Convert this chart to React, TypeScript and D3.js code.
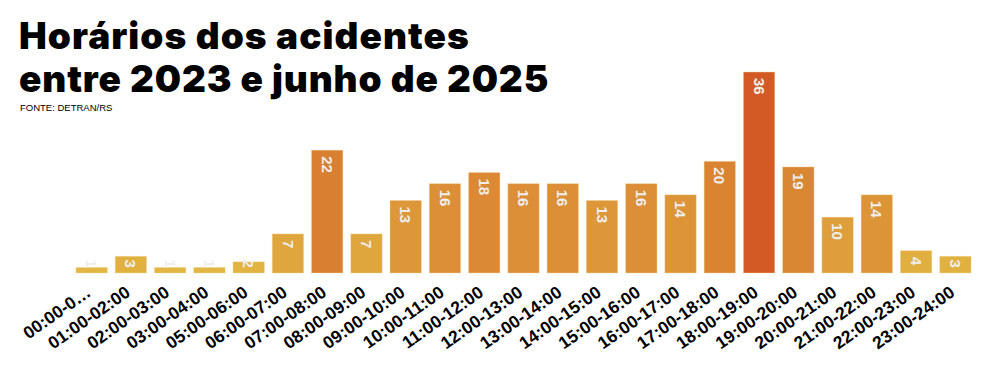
import React, { useRef, useEffect } from 'react';
import * as d3 from 'd3';

const categories = [
  '00:00-0…', '01:00-02:00', '02:00-03:00', '03:00-04:00', '05:00-06:00', '06:00-07:00',
  '07:00-08:00', '08:00-09:00', '09:00-10:00', '10:00-11:00', '11:00-12:00', '12:00-13:00',
  '13:00-14:00', '14:00-15:00', '15:00-16:00', '16:00-17:00', '17:00-18:00', '18:00-19:00',
  '19:00-20:00', '20:00-21:00', '21:00-22:00', '22:00-23:00', '23:00-24:00'
];
const values = [1, 3, 1, 1, 2, 7, 22, 7, 13, 16, 18, 16, 16, 13, 16, 14, 20, 36, 19, 10, 14, 4, 3];

const titleLines = ['Horários dos acidentes', 'entre 2023 e junho de 2025'];
const source = 'FONTE: DETRAN/RS';

const App = () => {
  const svgRef = useRef<SVGSVGElement>(null);

  useEffect(() => {
    const width = 997;
    const height = 365;
    const margin = { top: 72, right: 22, bottom: 92, left: 72 };
    const baseline = height - margin.bottom;

    const svg = d3.select(svgRef.current);
    svg.selectAll('*').remove();
    svg.attr('width', width).attr('height', height);

    // title
    const title = svg.append('g');
    titleLines.forEach((t, i) => {
      title.append('text')
        .attr('x', 19)
        .attr('y', 49 + i * 43)
        .attr('font-family', 'Inter, sans-serif')
        .attr('font-weight', 900)
        .attr('font-size', 37)
        .attr('letter-spacing', i === 0 ? 1.05 : 0.85)
        .attr('fill', '#000')
        .text(t);
    });
    svg.append('text')
      .attr('x', 20)
      .attr('y', 111)
      .attr('font-family', 'Liberation Sans, Arial, sans-serif')
      .attr('font-size', 9.5)
      .attr('fill', '#000')
      .text(source);

    const x = d3.scaleBand()
      .domain(categories)
      .range([margin.left, width - margin.right])
      .paddingInner(0.2)
      .paddingOuter(0.1);

    const y = d3.scaleLinear()
      .domain([0, d3.max(values) || 1])
      .range([baseline, margin.top]);

    const color = d3.scaleLinear<string>()
      .domain([1, 36])
      .range(['#e2b642', '#d35a25']);

    const bars = svg.append('g');
    categories.forEach((c, i) => {
      const v = values[i];
      const bx = x(c) || 0;
      bars.append('rect')
        .attr('x', bx)
        .attr('y', y(v))
        .attr('width', x.bandwidth())
        .attr('height', baseline - y(v))
        .attr('fill', color(v))
        .attr('stroke', '#f3dca0')
        .attr('stroke-opacity', 0.5)
        .attr('stroke-width', 0.8);

      const label = String(v);
      const textLen = label.length * 8.5;
      const ly = Math.min(y(v) + 6, baseline - 5 - textLen);
      bars.append('text')
        .attr('transform', `translate(${bx + x.bandwidth() / 2},${ly}) rotate(90)`)
        .attr('dy', '0.36em')
        .attr('text-anchor', 'start')
        .attr('font-family', 'Liberation Sans, Arial, sans-serif')
        .attr('font-weight', 'bold')
        .attr('font-size', 15)
        .attr('fill', '#eeeeee')
        .text(label);
    });

    // axis
    const axis = svg.append('g')
      .attr('transform', `translate(0,${baseline})`)
      .call(d3.axisBottom(x).tickSize(0).tickPadding(0));
    axis.select('.domain').remove();
    axis.selectAll('text')
      .attr('y', 0)
      .attr('transform', 'translate(-3,17) rotate(-35)')
      .attr('dy', '0.35em')
      .style('text-anchor', 'end')
      .attr('font-family', 'Liberation Sans, Arial, sans-serif')
      .attr('font-weight', 'bold')
      .attr('font-size', 17.5)
      .attr('fill', '#000');
  }, []);

  return <svg ref={svgRef} style={{ display: 'block', margin: '-8px' }} />;
};

export default App;
